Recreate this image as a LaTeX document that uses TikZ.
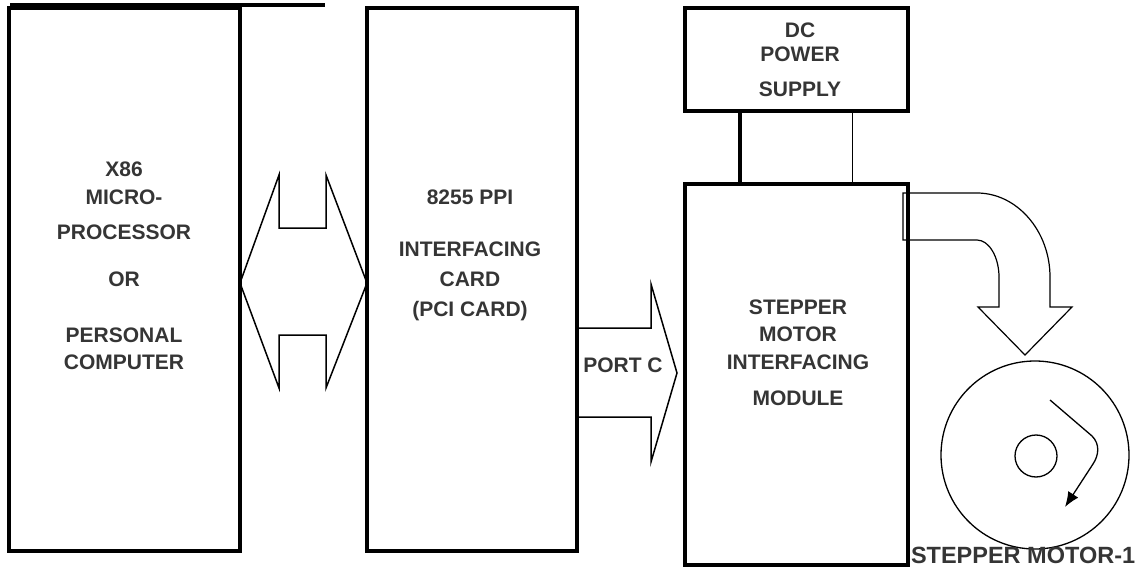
\documentclass[tikz,border=0pt]{standalone}
\usepackage{fontspec}
\setmainfont{Liberation Sans}
\usetikzlibrary{positioning,arrows.meta}
\definecolor{textGray}{HTML}{353535}

\begin{document}
\begin{tikzpicture}[
    x=1pt, y=-1pt,
    every node/.style = {inner sep=0pt, outer sep=0pt},
    block/.style      = {draw=black, line width=3.5pt},
    lbl/.style        = {font=\fontsize{21}{28}\selectfont\bfseries,
                         text=textGray, align=center},
    outline/.style    = {draw=black, line width=1.5pt, line join=miter},
    motor/.style      = {draw=black, line width=1.3pt},
  ]
  \useasboundingbox (0,0) rectangle (1141,567);

  %% stray rule left from the cut-off heading
  \draw[line width=3.5pt] (10,5) -- (325,5);

  %% Column 1: computer, column 2: PPI card
  \node[block, minimum width=231, minimum height=543] (pc)   at (124.5,279.5) {};
  \node[block, minimum width=210, minimum height=543] (card) at (472,279.5) {};

  %% Column 3: power supply on top of the interfacing module
  \node[block, minimum width=223, minimum height=103] (dc)     at (796.5,59.5) {};
  \node[block, minimum width=223, minimum height=381] (module) at (796.5,374.5) {};

  %% Box texts
  \node[lbl, anchor=north] (pctext) at (124,162)
    {X86\\MICRO-\\[7pt]PROCESSOR\\[19pt]OR\\[28pt]PERSONAL\\[-1pt]COMPUTER};
  \node[lbl, anchor=north] (cardtext) at (470,190)
    {8255 PPI\\[24pt]INTERFACING\\[2pt]CARD\\[2pt](PCI CARD)};
  \node[lbl, anchor=north] (dctext) at (800,23)
    {DC\\[-4pt]POWER\\[7pt]SUPPLY};
  \node[lbl, anchor=north] (moduletext) at (798,300)
    {STEPPER\\[-1pt]MOTOR\\INTERFACING\\[8pt]MODULE};

  %% Supply leads (left one heavy, right one light)
  \draw[line width=3.5pt] ([xshift=-56.5]dc.south) -- ([xshift=-56.5]dc.south |- module.north);
  \draw[line width=1pt]   ([xshift=55.5]dc.south)  -- ([xshift=55.5]dc.south |- module.north);

  %% Two-way bus between computer and card
  \draw[outline] (279,175) -- (pc.east |- 0,283) -- (279,388) -- (279,335) -- (326,335)
    -- (326,388) -- (card.west |- 0,283) -- (326,175) -- (326,228) -- (279,228) -- cycle;

  %% PORT C arrow from card into module
  \draw[outline] (card.east |- 0,328) -- (651,328) -- (651,284) -- (677,373)
    -- (651,462) -- (651,417) -- (card.east |- 0,417);
  \node[lbl] (portc) at (623,365) {PORT C};

  %% Bent arrow from module down to the motor
  \draw[outline, line width=1.2pt] (903,193) -- (977,193)
    .. controls (1017,193) and (1050,231) .. (1050,277) -- (1050,307) -- (1072,307)
    -- (1025,355) -- (978,307) -- (999,307) -- (999,277)
    .. controls (999,257) and (989,240) .. (977,240) -- (903,240) -- cycle;

  %% Stepper motor
  \node[motor, circle, minimum size=188] (rotor) at (1035,455) {};
  \node[motor, circle, minimum size=42]  (shaft) at (1036,456) {};
  \draw[motor, -{Latex[length=15pt, width=12pt]}] (1050,400) -- (1092,436)
    .. controls (1100,444) and (1099,455) .. (1093,464) -- (1065,507);
  \node[lbl, font=\fontsize{23.5}{28}\selectfont\bfseries, anchor=base west] (motorname)
    at (911,563) {STEPPER MOTOR-1};

\end{tikzpicture}
\end{document}
